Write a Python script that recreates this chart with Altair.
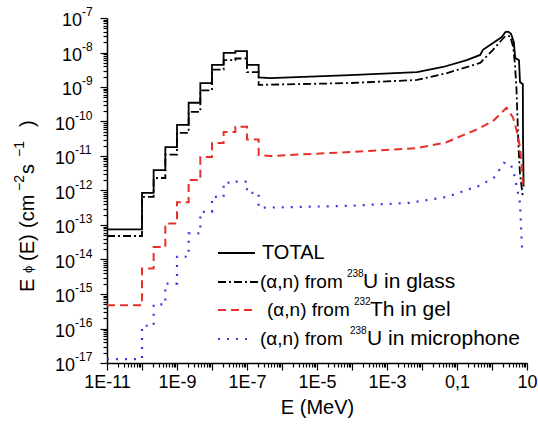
import altair as alt
import pandas as pd

# ---------------- data ----------------
bin_edges = [1e-11, 1e-10, 2.15e-10, 4.64e-10, 1e-9, 2.15e-9, 4.64e-9,
             1e-8, 2.15e-8, 4.64e-8, 1e-7, 2.15e-7]

total_bins = [7.5e-14, 8.5e-13, 3.9e-12, 1.8e-11, 8e-11, 3.5e-10, 1.3e-9,
              4.4e-9, 9.8e-9, 1.1e-8, 4.4e-9]
total_tail_E = [2.15e-7, 4.6e-7, 8.7e-5, 7.2e-3, 0.04, 0.19, 0.46, 0.55, 1.07,
                1.9, 2.4, 2.9, 3.5, 4.2, 4.6, 5.9, 6.3, 7.6, 7.7, 8.0]
total_tail_F = [1.9e-9, 1.8e-9, 2.2e-9, 2.7e-9, 3.8e-9, 6e-9, 8.5e-9, 1.2e-8,
                1.9e-8, 2.8e-8, 3.9e-8, 4.0e-8, 3.5e-8, 2.0e-8, 7e-9, 6e-9,
                1.4e-9, 1.2e-9, 3.5e-11, 1.3e-12]

glass_bins = [4.8e-14, 6.5e-13, 2.3e-12, 1.1e-11, 4.7e-11, 1.9e-10, 8e-10,
              3.2e-9, 6e-9, 6.7e-9, 2.7e-9]
glass_tail_E = [2.15e-7, 8.7e-5, 7.2e-3, 0.05, 0.46, 1.07, 1.9, 2.4, 3.3,
                4.0, 4.5, 5.0, 5.7, 6.3, 7.7]
glass_tail_F = [1.15e-9, 1.3e-9, 1.6e-9, 2.5e-9, 5e-9, 1.2e-8, 2.3e-8, 3e-8,
                3e-8, 1.5e-8, 5e-9, 9e-10, 2e-11, 3e-12, 6e-13]

gel_bins = [4.7e-16, 5.5e-15, 2.3e-14, 1.1e-13, 4.6e-13, 2e-12, 9.3e-12,
            2.4e-11, 5e-11, 7e-11, 3e-11]
gel_tail_E = [2.15e-7, 4.6e-7, 8.7e-5, 7.2e-3, 0.05, 0.46, 1.15, 2.6, 4.0,
              5.3, 6.3, 7.2, 7.7]
gel_tail_F = [1.07e-11, 1e-11, 1.3e-11, 1.7e-11, 2.5e-11, 6.5e-11, 1.1e-10,
              2.5e-10, 1.3e-10, 4.6e-11, 1.8e-11, 4.7e-12, 1.3e-12]

micro_bins = [1.3e-17, 1.2e-16, 5e-16, 2e-15, 1.2e-14, 5.7e-14, 2.4e-13,
              6.5e-13, 1.7e-12, 1.8e-12, 8.5e-13]
micro_tail_E = [2.15e-7, 4.6e-7, 8.7e-5, 4.6e-3, 0.05, 0.46, 1.15, 2.2, 3.3,
                4.0, 5.0, 6.3, 7.2]
micro_tail_F = [3.2e-13, 3.2e-13, 3.6e-13, 4.4e-13, 6.5e-13, 1.4e-12, 2.4e-12,
                6.3e-12, 6e-12, 4e-12, 1.4e-12, 4.4e-13, 2.2e-14]

x_decades = list(range(-11, 2))
y_decades = list(range(-17, -6))

FONT = "Liberation Sans"


def series_df(bins, tail_E, tail_F):
    E, F = [], []
    for i, v in enumerate(bins):
        E += [bin_edges[i], bin_edges[i + 1]]
        F += [v, v]
    E += tail_E
    F += tail_F
    return pd.DataFrame({"E": E, "F": F, "i": range(len(E))})


xscale = alt.Scale(type="log", domain=[1e-11, 10], nice=False)
yscale = alt.Scale(type="log", domain=[1e-17, 1e-7], nice=False)

x_ticks = [m * 10.0 ** e for e in x_decades for m in range(1, 10) if m * 10.0 ** e <= 10.0001]
y_ticks = [m * 10.0 ** e for e in y_decades for m in range(1, 10) if m * 10.0 ** e <= 1.0001e-7]

is_major = "abs(log(datum.value)/LN10 - round(log(datum.value)/LN10)) < 0.001"
ex = "round(log(datum.value)/LN10)"
x_label_expr = (f"({is_major}) && ({ex} % 2 != 0) ? "
                f"({ex} == -1 ? '0,1' : ({ex} == 1 ? '10' : '1E' + {ex})) : ''")

x_axis = alt.Axis(values=x_ticks, labelExpr=x_label_expr, labelOverlap=False,
                  labelFlush=False,
                  tickSize={"condition": {"test": is_major, "value": 7}, "value": 4},
                  labelFont=FONT, labelFontSize=18, labelColor="black",
                  labelPadding=3, domainColor="black", domainWidth=1.5,
                  tickColor="black", tickWidth=1.2, grid=False,
                  title="E (MeV)", titleFont=FONT, titleFontSize=20,
                  titleFontWeight="normal", titleColor="black", titlePadding=6)
y_axis = alt.Axis(values=y_ticks, labels=False, title=None,
                  tickSize={"condition": {"test": is_major, "value": 7}, "value": 4},
                  domainColor="black", domainWidth=1.5, tickColor="black",
                  tickWidth=1.2, grid=False)


def line_layer(df, color, dash, width, cap="butt"):
    kw = dict(color=color, strokeWidth=width, strokeCap=cap, clip=False)
    if dash:
        kw["strokeDash"] = dash
    return alt.Chart(df).mark_line(**kw).encode(
        x=alt.X("E:Q", scale=xscale, axis=x_axis),
        y=alt.Y("F:Q", scale=yscale, axis=y_axis),
        order="i:Q")


total = line_layer(series_df(total_bins, total_tail_E, total_tail_F), "black", None, 1.8)
glass = line_layer(series_df(glass_bins, glass_tail_E, glass_tail_F), "black", [8, 3, 2, 3], 1.8)
gel = line_layer(series_df(gel_bins, gel_tail_E, gel_tail_F), "#e8302a", [8, 5], 2.0)
micro = line_layer(series_df(micro_bins, micro_tail_E, micro_tail_F), "#3a35e0", [2, 7], 2.2)

# ---------------- y tick labels 10^n ----------------
ylab = pd.DataFrame({"v": [10.0 ** e for e in y_decades],
                     "exp": [str(e) for e in y_decades]})
ylab["nd"] = ylab["exp"].str.len()
ylab_parts = []
for nd, xr in [(2, -25), (3, -32)]:
    base = alt.Chart(ylab).transform_filter(f"datum.nd == {nd}")
    ylab_parts.append(base.mark_text(text="10", align="right", baseline="middle",
                                     font=FONT, fontSize=18, dy=3, color="black")
                      .encode(y=alt.Y("v:Q", scale=yscale, axis=y_axis), x=alt.value(xr)))
    ylab_parts.append(base.mark_text(align="left", baseline="middle", font=FONT,
                                     fontSize=12, dy=-6, color="black")
                      .encode(y=alt.Y("v:Q", scale=yscale, axis=y_axis), x=alt.value(xr),
                              text="exp:N"))

# ---------------- y axis title (rotated, with superscripts) ----------------
ytitle_txt = ["E", "\u03d5", "(E)", "(cm", "\u22122", "s", "\u22121", ")"]
ytitle_pos = [274, 255, 243, 210, 173, 156, 139, 109]
ytitle_size = [20, 13, 20, 20, 14, 20, 14, 20]
ytitle_x = [-79, -79, -79, -79, -87, -79, -87, -79]
ytitle_layers = []
for t, p, s, xx in zip(ytitle_txt, ytitle_pos, ytitle_size, ytitle_x):
    ytitle_layers.append(
        alt.Chart(pd.DataFrame({"t": [t]})).mark_text(
            angle=270, align="left", baseline="middle", font=FONT,
            fontSize=s, color="black")
        .encode(text="t:N", x=alt.value(xx), y=alt.value(p)))

# ---------------- legend ----------------
leg_y = [235, 264, 292, 321]
leg_colors = ["black", "black", "#e8302a", "#3a35e0"]
leg_dash = [[1, 0], [8, 3, 2, 3], [8, 5], [2, 7]]
leg_x2 = [148, 151, 148, 143]
leg_w = [1.8, 1.8, 2.0, 2.2]
legend_layers = []
for yy, c, d, x2, w in zip(leg_y, leg_colors, leg_dash, leg_x2, leg_w):
    legend_layers.append(
        alt.Chart(pd.DataFrame({"a": [0]})).mark_rule(color=c, strokeDash=d, strokeWidth=w)
        .encode(x=alt.value(111), x2=alt.value(x2), y=alt.value(yy)))

leg_text = [
    ("TOTAL", 155, 235, 20),
    ("(\u03b1,n) from", 153, 264, 19), ("238", 240, 256, 10), ("U in glass", 256, 264, 21),
    ("(\u03b1,n) from", 160, 292, 19), ("232", 247, 284, 10), ("Th in gel", 263, 292, 21),
    ("(\u03b1,n) from", 153, 321, 19), ("238", 243, 313, 10), ("U in microphone", 260, 321, 21),
]
for t, xx, yy, fs in leg_text:
    legend_layers.append(
        alt.Chart(pd.DataFrame({"t": [t]})).mark_text(
            align="left", baseline="middle", font=FONT, fontSize=fs, color="black")
        .encode(text="t:N", x=alt.value(xx), y=alt.value(yy)))

chart = alt.layer(total, glass, gel, micro, *ylab_parts, *ytitle_layers, *legend_layers).properties(
    width=420, height=345,
    padding={"left": 107, "top": 18, "right": 11, "bottom": 64},
    autosize=alt.AutoSizeParams(type="none"),
    background="white",
).configure_view(stroke=None)

chart.save("out.html", embed_options={"renderer": "svg", "actions": False})
